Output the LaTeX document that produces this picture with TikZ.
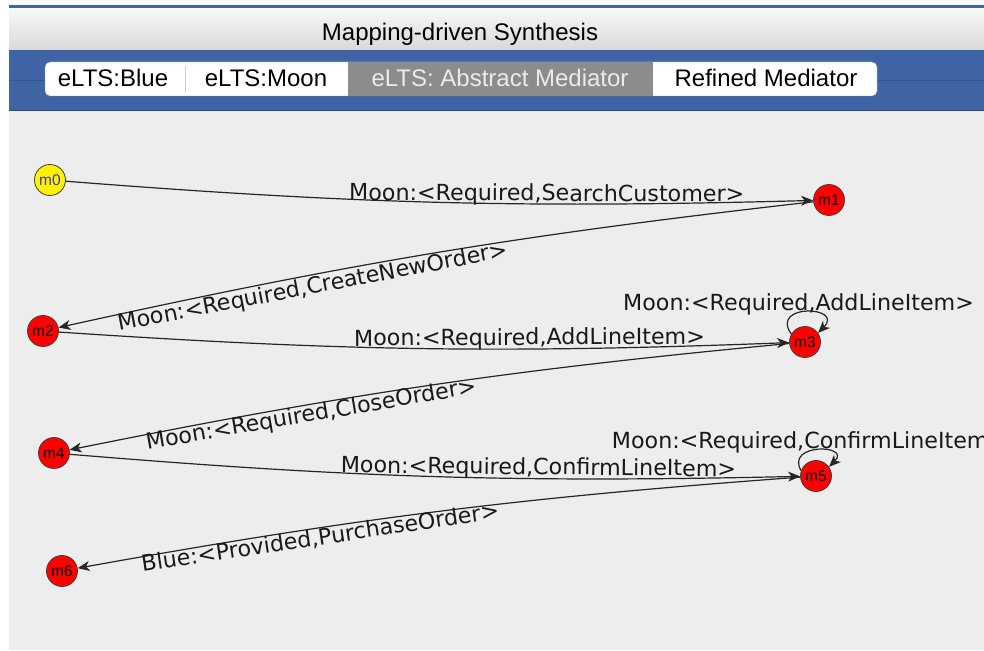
\documentclass[tikz,border=0pt]{standalone}
\usepackage{fontspec}
\setmainfont{DejaVu Sans}
\newfontfamily\tabfont{Liberation Sans}
\newfontfamily\statefont{Liberation Sans}
\usetikzlibrary{arrows.meta}
\definecolor{canvasgray}{HTML}{EDEDED}
\definecolor{bandblue}{HTML}{3E64A6}
\definecolor{tabsel}{HTML}{8C8C8C}
\definecolor{startblue}{HTML}{3A3AA8}
\tikzset{
  state/.style={circle, draw=black!75, line width=0.8pt, fill=red, minimum size=31pt, inner sep=0pt,
    font=\statefont\fontsize{15.5}{15.5}\selectfont},
  start/.style={state, fill=yellow, text=startblue},
  trans/.style={-{Stealth[length=12pt,width=10pt,inset=3.5pt]}, line width=1.2pt, draw=black!85},
  lbl/.style={font=\fontsize{22.2}{24}\selectfont, text=black!90, inner sep=0pt},
  tab/.style={font=\tabfont\fontsize{24}{26}\selectfont, inner sep=0pt, anchor=base},
}
\begin{document}
\begin{tikzpicture}[x=1pt,y=1pt]
  \clip (0,0) rectangle (984,650);
  \fill[white] (0,0) rectangle (984,650);

  %%%%% window %%%%%
  \fill[bandblue] (9,641) rectangle (984,645);
  \shade[top color=black!3, bottom color=black!15] (9,600) rectangle (984,641);
  \draw[black!35] (9,600) -- (984,600);
  \fill[bandblue] (9,540) rectangle (984,600);
  \draw[bandblue!85!black] (9,570) -- (984,570);
  \fill[canvasgray] (9,0) rectangle (984,539);
  \draw[bandblue!70!black] (9,539.5) -- (984,539.5);

  \node[tab] (title) at (460,609) {Mapping-driven Synthesis};

  %%%%% tabs %%%%%
  \draw[rounded corners=5pt, fill=white, draw=black!40] (45,554) rectangle (877,588);
  \fill[tabsel] (348,554) rectangle (653,588);
  \draw[black!20] (185,558) -- (185,584);
  \node[tab] (tblue) at (113,563) {eLTS:Blue};
  \node[tab] (tmoon) at (266,563) {eLTS:Moon};
  \node[tab, text=black!8] (tabstract) at (500,563) {eLTS: Abstract Mediator};
  \node[tab] (trefined) at (766,563) {Refined Mediator};

  %%%%% states %%%%%
  \node[start] (m0) at (50,470) {m0};
  \node[state] (m1) at (829,450) {m1};
  \node[state] (m2) at (43,319) {m2};
  \node[state] (m3) at (805,308) {m3};
  \node[state] (m4) at (54,197) {m4};
  \node[state] (m5) at (816,174) {m5};
  \node[state] (m6) at (62,79) {m6};

  %%%%% transitions %%%%%
  \draw[trans] (m0) to[bend right=3]
    node[lbl, pos=0.656, sloped, anchor=base, yshift=3pt] {Moon:<Required,SearchCustomer>} (m1);
  \draw[trans] (m1) to[bend right=3]
    node[lbl, pos=0.677, sloped, anchor=base, yshift=-19pt] {Moon:<Required,CreateNewOrder>} (m2);
  \draw[trans] (m2) to[bend right=3]
    node[lbl, pos=0.657, sloped, anchor=base, yshift=4pt] {Moon:<Required,AddLineItem>} (m3);
  \draw[trans] (m3.150) to[out=125, in=45, distance=38pt]
    node[lbl, pos=0.5, anchor=base, xshift=-8pt, yshift=1pt] {Moon:<Required,AddLineItem>} (m3.35);
  \draw[trans] (m3) to[bend right=3]
    node[lbl, pos=0.678, sloped, anchor=base, yshift=-17pt] {Moon:<Required,CloseOrder>} (m4);
  \draw[trans] (m4) to[bend right=3]
    node[lbl, pos=0.654, sloped, anchor=base, yshift=4pt] {Moon:<Required,ConfirmLineItem>} (m5);
  \draw[trans] (m5.160) to[out=120, in=45, distance=32pt]
    node[lbl, pos=0.5, anchor=base, xshift=-8pt, yshift=1pt] {Moon:<Required,ConfirmLineItem>} (m5.35);
  \draw[trans] (m5) to[bend right=3]
    node[lbl, pos=0.678, sloped, anchor=base, yshift=-17pt] {Blue:<Provided,PurchaseOrder>} (m6);
\end{tikzpicture}
\end{document}
